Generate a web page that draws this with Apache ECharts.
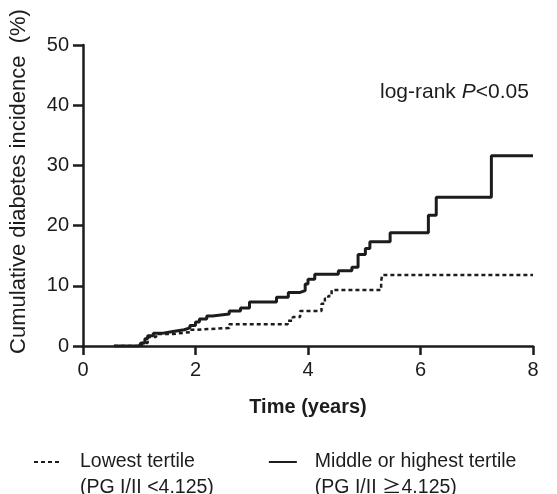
<!DOCTYPE html>
<html>
<head>
<meta charset="utf-8">
<script src="https://cdn.jsdelivr.net/npm/echarts@6/dist/echarts.min.js"></script>
<style>
  html, body { margin: 0; padding: 0; background: #fff; }
  #chart { width: 557px; height: 494px; }
</style>
</head>
<body>
<div id="chart"></div>
<script>
  // 时间刻度 (years) 与 y 刻度
  const xTicks = [0, 2, 4, 6, 8];
  const yTicks = [0, 10, 20, 30, 40, 50];

  // Middle or highest tertile: [time, cumulative %]
  const highSteps = [
    [0.55, 0], [1.0, 0], [1.03, 0.5], [1.1, 1.2], [1.15, 1.7], [1.25, 2.1],
    [1.4, 2.4], [1.6, 2.7], [1.8, 3.0], [1.9, 3.4], [2.0, 4.0], [2.07, 4.5],
    [2.2, 5.0], [2.3, 5.3], [2.6, 5.8], [2.8, 6.3], [2.96, 7.3], [3.44, 8.1],
    [3.65, 8.9], [3.86, 9.2], [3.95, 10.3], [4.0, 11.1], [4.12, 11.9],
    [4.54, 12.5], [4.78, 13.1], [4.89, 15.2], [5.02, 16.2], [5.1, 17.3],
    [5.46, 18.8], [6.14, 21.7], [6.28, 24.7], [7.26, 31.6], [8.0, 31.6]
  ];
  // Lowest tertile
  const lowSteps = [
    [0.55, 0], [1.0, 0], [1.05, 0.5], [1.15, 1.5], [1.3, 2.0], [1.6, 2.3],
    [1.9, 2.7], [2.0, 3.0], [2.6, 3.6], [3.64, 4.2], [3.73, 4.8], [3.86, 5.8],
    [4.24, 7.0], [4.3, 7.9], [4.36, 8.3], [4.42, 9.3], [5.3, 10.8],
    [5.32, 11.8], [8.0, 11.8]
  ];

  const lowName = "Lowest tertile\n(PG I/II <4.125)";
  const highName = "Middle or highest tertile\n(PG I/II \u22674.125)";

  const ink = "#1c1c1c";
  const font = "'Liberation Sans', Arial, sans-serif";

  const myChart = echarts.init(document.getElementById("chart"));
  const options = {
    animation: false,
    textStyle: { fontFamily: font, color: ink },
    grid: { left: 81, right: 24, top: 45, bottom: 148 },
    title: {
      left: 375,
      top: 77,
      text: "{a|log-rank }{b|P}{a|<0.05}",
      textStyle: {
        rich: {
          a: { fontSize: 21, color: ink, fontFamily: font, fontWeight: "normal" },
          b: { fontSize: 21, color: ink, fontFamily: font, fontWeight: "normal", fontStyle: "italic" }
        }
      }
    },
    legend: {
      left: 28,
      top: 418,
      itemGap: 54,
      itemWidth: 28,
      itemHeight: 14,
      data: [lowName, highName],
      // 首行与图例线对齐: 前面加一个空行; ≧ 用 CJK 字体
      formatter: (name) => " \n" + name.replace("\u2267", "{g|\u2267}"),
      itemStyle: { color: "transparent", borderWidth: 0 },
      textStyle: {
        fontSize: 19.5,
        color: ink,
        fontFamily: font,
        lineHeight: 26,
        padding: [0, 0, 0, 13],
        rich: {
          g: { fontSize: 19.5, color: ink, fontFamily: "'Noto Sans CJK SC'", lineHeight: 26 }
        }
      }
    },
    xAxis: {
      type: "value",
      min: 0,
      max: 8,
      interval: 2,
      name: "Time (years)",
      nameLocation: "middle",
      nameGap: 51,
      nameTextStyle: { fontSize: 20, fontWeight: "bold", color: ink, fontFamily: font },
      splitLine: { show: false },
      axisLine: { show: true, lineStyle: { color: ink, width: 2.5 } },
      axisTick: { show: true, length: 9, lineStyle: { color: ink, width: 2.5 } },
      axisLabel: { fontSize: 20, color: ink, margin: 14, fontFamily: font }
    },
    yAxis: {
      type: "value",
      min: 0,
      max: 50,
      interval: 10,
      name: "Cumulative diabetes incidence  (%)",
      nameLocation: "middle",
      nameRotate: 90,
      nameGap: 53,
      nameTextStyle: { fontSize: 22, color: ink, fontFamily: font, padding: [0, 0, 0, 28] },
      splitLine: { show: false },
      axisLine: { show: true, lineStyle: { color: ink, width: 2.5 } },
      axisTick: { show: true, length: 10, lineStyle: { color: ink, width: 2.5 } },
      axisLabel: { fontSize: 20, color: ink, margin: 14, fontFamily: font }
    },
    series: [
      {
        name: lowName,
        type: "line",
        step: "end",
        data: lowSteps,
        showSymbol: false,
        symbol: "none",
        lineStyle: { color: ink, width: 2.5, type: [4, 3] },
        itemStyle: { color: ink }
      },
      {
        name: highName,
        type: "line",
        step: "end",
        data: highSteps,
        showSymbol: false,
        symbol: "none",
        lineStyle: { color: ink, width: 3 },
        itemStyle: { color: ink }
      }
    ]
  };
  myChart.setOption(options);
</script>
</body>
</html>
